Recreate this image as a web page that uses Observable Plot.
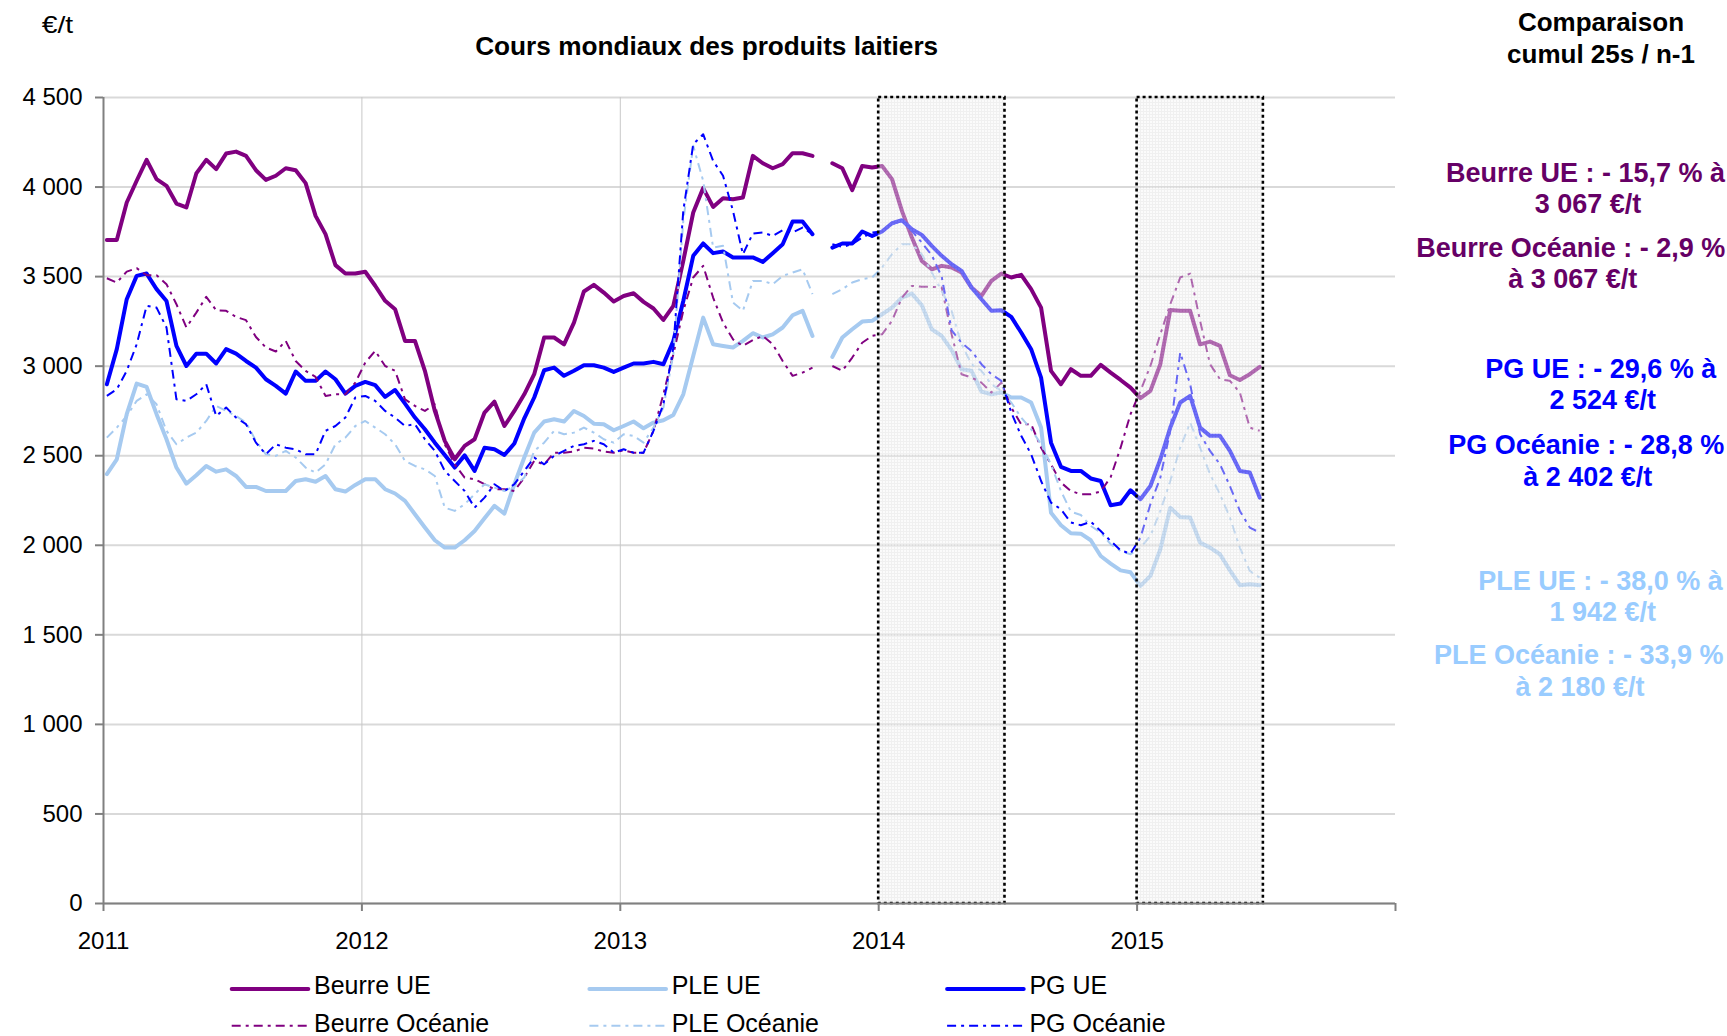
<!DOCTYPE html>
<html>
<head>
<meta charset="utf-8">
<script src="https://cdn.jsdelivr.net/npm/d3@7"></script>
<script src="https://cdn.jsdelivr.net/npm/@observablehq/plot@0.6"></script>
<style>
  html, body { margin: 0; padding: 0; background: #ffffff; }
  #chart { width: 1727px; height: 1036px; position: relative; }
  svg text { font-family: "Liberation Sans", Arial, sans-serif; }
</style>
</head>
<body>
<svg width="0" height="0" style="position:absolute">
  <defs>
    <pattern id="shadePat" width="3" height="3" patternUnits="userSpaceOnUse">
      <rect width="3" height="3" fill="#f6f6f6"></rect>
      <path d="M0 0.5H3M0.5 0V3" stroke="#dedede" stroke-width="1"></path>
    </pattern>
  </defs>
</svg>
<div id="chart"></div>
<script>
// ---------- Data (€/t), one value every two weeks from early January 2011 ----------
const startYear = 2011.013;
const stepsPerYear = 26;

const beurreUE = [3705,3705,3914,4035,4152,4044,4007,3908,3886,4076,4152,4100,4187,4198,4174,4094,4040,4063,4105,4094,
  4022,3839,3737,3564,3517,3517,3527,3449,3365,3318,3141,3141,2974,2750,2583,2480,2555,2592,2741,2802,
  2666,2750,2843,2955,3160,3160,3122,3243,3417,3454,3411,3361,3392,3407,3359,3322,3258,3337,3588,3858,
  3994,3889,3938,3932,3942,4174,4133,4105,4128,4189,4189,4174,null,4133,4105,3983,4118,4109,4118,4044,
  3867,3718,3588,3541,3560,3551,3523,3439,3392,3476,3517,3495,3510,3430,3327,2974,2899,2983,2946,2946,
  3007,2964,2923,2880,2821,2862,3011,3314,3309,3309,3122,3137,3113,2949,2923,2955,2996];

const pleUE = [2397,2480,2732,2903,2884,2732,2592,2434,2344,2391,2443,2411,2424,2387,2326,2326,2303,2303,2303,2359,
  2369,2355,2387,2313,2300,2337,2369,2369,2313,2289,2248,2173,2099,2028,1987,1987,2028,2080,2151,2220,
  2177,2341,2490,2629,2691,2704,2691,2750,2722,2679,2676,2642,2666,2691,2653,2685,2698,2728,2843,3057,
  3271,3122,3113,3104,3141,3184,3160,3178,3216,3284,3309,3169,null,3052,3160,3206,3249,3253,3290,3327,
  3383,3405,3340,3206,3169,3090,2983,2974,2858,2843,2853,2825,2825,2797,2657,2182,2112,2067,2065,2028,
  1940,1898,1860,1849,1773,1829,1978,2210,2158,2155,2015,1987,1950,1860,1777,1782,1777];

const pgUE = [2899,3095,3374,3504,3517,3430,3364,3113,3001,3070,3070,3015,3095,3070,3029,2992,2927,2890,2847,2970,
  2918,2918,2970,2927,2847,2890,2912,2894,2828,2867,2791,2713,2648,2573,2504,2434,2502,2415,2545,2536,
  2504,2568,2709,2825,2977,2992,2946,2974,3005,3005,2992,2968,2992,3015,3015,3024,3011,3141,3364,3616,
  3685,3631,3640,3607,3607,3607,3582,3631,3681,3808,3808,3737,null,3662,3685,3685,3752,3727,3752,3798,
  3815,3765,3733,3672,3616,3569,3532,3439,3374,3309,3312,3275,3188,3095,2936,2573,2438,2415,2415,2373,
  2359,2224,2233,2307,2257,2331,2480,2657,2797,2834,2657,2611,2611,2527,2415,2406,2266];

const beurreOce = [3491,3467,3528,3547,3508,3508,3458,3346,3216,3299,3387,3312,3309,3275,3257,3163,3104,3082,3141,3029,
  2974,2940,2834,2843,2843,2908,3020,3085,3001,2974,2815,2778,2750,2787,2564,2452,2378,2369,2341,2313,
  2313,2303,2378,2471,2452,2517,2517,2523,2545,2540,2523,2517,2530,2517,2517,2639,2843,3067,3309,3495,
  3560,3383,3243,3150,3113,3145,3169,3122,3029,2946,2964,2992,null,3001,2974,3048,3131,3169,3178,3253,
  3383,3448,3443,3443,3439,3178,2955,2936,2908,2853,2908,2769,2676,2676,2545,2452,2350,2303,2285,2285,
  2300,2380,2545,2732,2862,3001,3178,3346,3495,3517,3253,3011,2927,2918,2853,2657,2639];

const pleOce = [2601,2657,2722,2806,2843,2787,2639,2564,2601,2629,2694,2778,2750,2722,2685,2583,2508,2499,2527,2490,
  2434,2406,2452,2564,2601,2666,2694,2657,2620,2564,2471,2443,2424,2387,2210,2192,2229,2285,2341,2322,
  2303,2331,2378,2527,2573,2639,2620,2629,2657,2629,2592,2573,2620,2611,2573,2657,2769,3067,3811,4230,
  4035,3662,3672,3355,3309,3476,3476,3458,3504,3523,3541,3402,null,3402,3430,3467,3486,3495,3551,3625,
  3681,3681,3625,3523,3420,3309,3122,3011,2974,2899,2862,2797,2713,2648,2564,2452,2303,2188,2169,2108,
  2071,2006,1968,1950,1987,2052,2192,2359,2545,2685,2545,2397,2285,2155,1987,1857,1819];

const pgOce = [2834,2871,2974,3122,3337,3327,3216,2815,2806,2843,2899,2722,2769,2713,2676,2573,2508,2564,2545,2536,
  2508,2508,2639,2666,2713,2825,2834,2806,2750,2713,2666,2676,2592,2527,2415,2359,2303,2210,2266,2341,
  2303,2341,2415,2490,2452,2499,2527,2555,2564,2583,2564,2517,2536,2517,2517,2639,2787,3104,3867,4239,
  4295,4146,4063,3867,3625,3741,3746,3727,3759,3746,3774,3737,null,3681,3666,3681,3718,3746,3752,3793,
  3811,3755,3690,3620,3500,3200,3130,3085,3011,2955,2918,2741,2611,2508,2359,2238,2201,2127,2112,2132,
  2080,2024,1972,1953,2043,2229,2378,2639,3076,2899,2620,2527,2452,2331,2192,2099,2071];

// Highlighted periods: first 25 weeks of each year
const periods = [{year: 2014, weeks: 25.5}, {year: 2015, weeks: 25.5}];

const yTicks = [0, 500, 1000, 1500, 2000, 2500, 3000, 3500, 4000, 4500];
const xTicks = [2011, 2012, 2013, 2014, 2015, 2016];
const xLabels = ["2011", "2012", "2013", "2014", "2015", ""];

const seriesDefs = [
  {name: "Beurre UE", values: beurreUE, color: "#800080", width: 4, dash: null},
  {name: "PLE UE", values: pleUE, color: "#a6caf0", width: 4, dash: null},
  {name: "PG UE", values: pgUE, color: "#0000ff", width: 4, dash: null},
  {name: "Beurre Océanie", values: beurreOce, color: "#800080", width: 2, dash: "9,5,3,5"},
  {name: "PLE Océanie", values: pleOce, color: "#a6caf0", width: 2, dash: "9,5,3,5"},
  {name: "PG Océanie", values: pgOce, color: "#0000ff", width: 2, dash: "9,5,3,5"}
];

const notes = [
  {lines: ["Beurre UE : - 15,7 % à", "3 067 €/t"], color: "#660066"},
  {lines: ["Beurre Océanie : - 2,9 %", "à 3 067 €/t"], color: "#660066"},
  {lines: ["PG UE : - 29,6 % à", "2 524 €/t"], color: "#0000ff"},
  {lines: ["PG Océanie : - 28,8 %", "à 2 402 €/t"], color: "#0000ff"},
  {lines: ["PLE UE : - 38,0 % à", "1 942 €/t"], color: "#99ccff"},
  {lines: ["PLE Océanie : - 33,9 %", "à 2 180 €/t"], color: "#99ccff"}
];

// ---------- Build ----------
const fr = d3.formatLocale({decimal: ",", thousands: "\u00a0", grouping: [3], currency: ["", " €"]});
const fmt = fr.format(",d");

const toRows = (vals) => vals.map((v, k) => ({t: startYear + k / stepsPerYear, v}));

const lineMarks = seriesDefs.map(s => Plot.line(toRows(s.values), {
  x: "t", y: "v", stroke: s.color, strokeWidth: s.width,
  strokeDasharray: s.dash || undefined, strokeLinejoin: "round", strokeLinecap: s.dash ? "butt" : "round"
}));

const shadeRows = periods.map(p => ({x1: p.year, x2: p.year + p.weeks / 52.18, y1: 0, y2: 4500}));

const chart = Plot.plot({
  width: 1727,
  height: 1036,
  marginLeft: 103,
  marginRight: 332,
  marginTop: 97,
  marginBottom: 133,
  style: {fontFamily: "'Liberation Sans', Arial, sans-serif", fontSize: "24px", background: "#ffffff", color: "#000000", overflow: "visible"},
  x: {domain: [2011, 2016]},
  y: {domain: [0, 4500]},
  marks: [
    Plot.gridY(yTicks, {stroke: "#d9d9d9", strokeWidth: 2, strokeOpacity: 1}),
    Plot.gridX([2012, 2013], {stroke: "#c8c8c8", strokeWidth: 1, strokeOpacity: 1}),
    ...lineMarks,
    Plot.rect(shadeRows, {x1: "x1", x2: "x2", y1: "y1", y2: "y2", fill: "url(#shadePat)", fillOpacity: 0.45,
      stroke: "#000000", strokeWidth: 2.6, strokeDasharray: "3,3", strokeOpacity: 1}),
    Plot.ruleY([0], {stroke: "#808080", strokeWidth: 2}),
    Plot.ruleX([2011], {stroke: "#808080", strokeWidth: 2}),
    Plot.axisY(yTicks, {anchor: "left", tickSize: 8, tickPadding: 13, tickFormat: fmt,
      stroke: "#808080", strokeWidth: 2, fill: "#000000", fontSize: 24, label: null}),
    Plot.axisX(xTicks, {anchor: "bottom", tickSize: 8, tickPadding: 20,
      tickFormat: (d) => xLabels[xTicks.indexOf(d)], stroke: "#808080", strokeWidth: 2,
      fill: "#000000", fontSize: 24, label: null})
  ]
});

document.getElementById("chart").appendChild(chart);

const svg = d3.select(chart);
const font = "'Liberation Sans', Arial, sans-serif";

// Unit
svg.append("text").attr("x", 41.7).attr("y", 33.3).attr("text-anchor", "start")
  .attr("font-size", 24).attr("font-family", font).attr("fill", "#000")
  .attr("textLength", 31.5).attr("lengthAdjust", "spacingAndGlyphs").text("€/t");

// Title
svg.append("text").attr("x", 706.7).attr("y", 55).attr("text-anchor", "middle")
  .attr("font-size", 25).attr("font-weight", "bold").attr("font-family", font)
  .attr("textLength", 463).attr("lengthAdjust", "spacingAndGlyphs")
  .attr("fill", "#000").text("Cours mondiaux des produits laitiers");

// Right header
svg.append("text").attr("x", 1601).attr("y", 30.5).attr("text-anchor", "middle")
  .attr("font-size", 26).attr("font-weight", "bold").attr("font-family", font).attr("fill", "#000")
  .text("Comparaison");
svg.append("text").attr("x", 1601).attr("y", 62.5).attr("text-anchor", "middle")
  .attr("font-size", 26).attr("font-weight", "bold").attr("font-family", font).attr("fill", "#000")
  .text("cumul 25s / n-1");

// Right notes
const noteLayout = [
  [[1585.5, 182.0], [1588.0, 213.0]],
  [[1570.8, 256.6], [1572.7, 288.4]],
  [[1600.8, 377.6], [1602.8, 408.9]],
  [[1586.2, 454.1], [1587.7, 485.5]],
  [[1600.5, 589.6], [1602.8, 621.3]],
  [[1578.7, 664.2], [1580.0, 696.0]]
];
notes.forEach((n, i) => {
  n.lines.forEach((line, j) => {
    const [x, y] = noteLayout[i][j];
    svg.append("text").attr("x", x).attr("y", y).attr("text-anchor", "middle")
      .attr("font-size", 27).attr("font-weight", "bold").attr("font-family", font)
      .attr("fill", n.color).text(line);
  });
});

// Legend
const legendCols = [231.7, 589.4, 947.1];
const legendRows = [{line: 989, base: 994}, {line: 1025.7, base: 1032}];
seriesDefs.forEach((s, i) => {
  const col = legendCols[i % 3];
  const row = legendRows[Math.floor(i / 3)];
  svg.append("line").attr("x1", col).attr("x2", col + 76.6).attr("y1", row.line).attr("y2", row.line)
    .attr("stroke", s.color).attr("stroke-width", s.dash ? 2 : 4)
    .attr("stroke-dasharray", s.dash ? "9,5,3,5" : null)
    .attr("stroke-linecap", s.dash ? "butt" : "round");
  svg.append("text").attr("x", col + 82.3).attr("y", row.base).attr("text-anchor", "start")
    .attr("font-size", 25).attr("font-family", font).attr("fill", "#000").text(s.name);
});
</script>
</body>
</html>
